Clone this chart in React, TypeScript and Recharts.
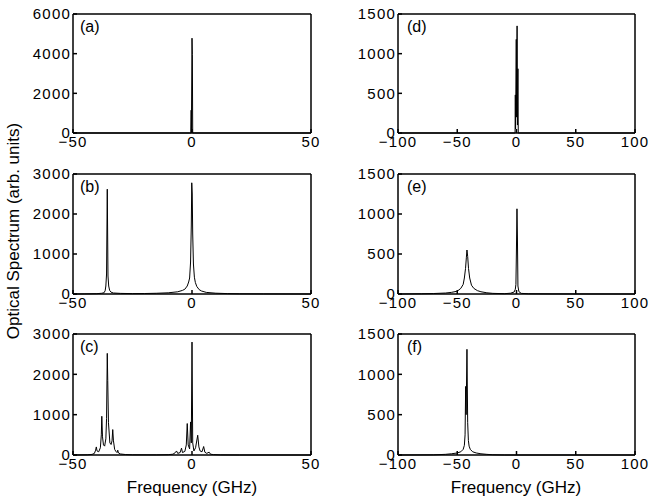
import React from 'react';
import { LineChart, Line, XAxis, YAxis } from 'recharts';

// tick values
const leftFreqTicks = [-50, 0, 50];
const rightFreqTicks = [-100, -50, 0, 50, 100];
const ticksA = [0, 2000, 4000, 6000];
const ticksBC = [0, 1000, 2000, 3000];
const ticksDEF = [0, 500, 1000, 1500];

// spectra: [frequency GHz, power arb. units]
const specA: [number, number][] = [
  [-50, 0], [-1, 0], [-0.5, 0], [-0.35, 1150], [-0.25, 0], [0, 4780], [0.15, 3950], [0.3, 0], [1, 0], [50, 0],
];

const specB: [number, number][] = [
  [-50, 0], [-45, 3], [-40, 8], [-38, 18], [-37, 30], [-36.5, 80], [-36.2, 200], [-35.9, 500], [-35.6, 2620],
  [-35.3, 450], [-35, 200], [-34.6, 90], [-34, 45], [-33, 25], [-30, 15], [-25, 10], [-20, 12], [-15, 18],
  [-10, 30], [-6, 55], [-4, 90], [-3, 120], [-2, 200], [-1.4, 300], [-1, 400], [-0.6, 800], [-0.3, 1700],
  [-0.1, 2780], [0.1, 2500], [0.3, 1500], [0.6, 750], [1, 420], [1.4, 290], [2, 190], [3, 110], [4, 75],
  [6, 40], [10, 20], [15, 10], [20, 5], [30, 2], [50, 0],
];

const specC: [number, number][] = [
  [-50, 0], [-44, 5], [-42, 15], [-41, 40], [-40.5, 120], [-40.2, 200], [-39.9, 100], [-39.2, 80],
  [-38.5, 180], [-38.1, 500], [-37.9, 960], [-37.6, 450], [-37.2, 250], [-36.7, 220], [-36.2, 400],
  [-35.9, 900], [-35.6, 2520], [-35.4, 1850], [-35.1, 800], [-34.5, 300], [-34, 260], [-33.6, 350],
  [-33.3, 630], [-33, 350], [-32.5, 140], [-32, 90], [-31.5, 60], [-31.2, 120], [-30.9, 50], [-30, 25],
  [-28, 12], [-25, 5], [-15, 3], [-10, 8], [-8, 20], [-7, 60], [-6.5, 100], [-6, 40], [-5, 60],
  [-4.4, 170], [-4, 60], [-3, 90], [-2.4, 250], [-2, 780], [-1.6, 250], [-1, 150], [-0.6, 820],
  [-0.3, 300], [0, 2800], [0.3, 300], [0.8, 100], [1.5, 180], [2.4, 490], [2.9, 200], [3.4, 100],
  [4.2, 80], [4.9, 210], [5.4, 70], [6.2, 40], [7.2, 70], [7.8, 20], [9, 10], [12, 3], [20, 0], [50, 0],
];

const specD: [number, number][] = [
  [-100, 0], [-2, 0], [-1.2, 0], [-1, 480], [-0.8, 50], [-0.2, 1180], [0.1, 200], [0.5, 1350],
  [0.8, 100], [1.2, 810], [1.5, 0], [3, 0], [100, 0],
];

const specE: [number, number][] = [
  [-100, 0], [-80, 3], [-70, 6], [-60, 12], [-55, 20], [-50, 35], [-47, 70], [-45, 120], [-44, 200],
  [-43, 320], [-42.3, 460], [-41.8, 550], [-41.2, 470], [-40.5, 320], [-39.5, 200], [-38, 110],
  [-36, 70], [-33, 42], [-30, 28], [-25, 15], [-20, 8], [-10, 4], [-5, 10], [-2, 25], [-1, 60],
  [-0.5, 120], [-0.2, 400], [0.4, 1065], [0.8, 700], [1.2, 100], [2, 30], [4, 8], [10, 3], [30, 1], [100, 0],
];

const specF: [number, number][] = [
  [-100, 0], [-70, 2], [-60, 8], [-55, 15], [-50, 25], [-47, 40], [-45, 70], [-44, 120], [-43.4, 250],
  [-42.9, 850], [-42.5, 500], [-41.8, 1310], [-41.2, 400], [-40.6, 180], [-40, 110], [-39, 70],
  [-37, 40], [-34, 25], [-30, 15], [-25, 8], [-20, 3], [-10, 0], [100, 0],
];

const FONT = '"Liberation Sans", Arial, Helvetica, sans-serif';
const fmt = (v: number) => String(v).replace('-', '\u2212');

function Panel({ spec, left, top, w, h, xTicks, yTicks }) {
  const rows = spec.map(([f, s]) => ({ f, s }));
  const xDom = [xTicks[0], xTicks[xTicks.length - 1]];
  const yDom = [0, yTicks[yTicks.length - 1]];
  const axisStyle = { stroke: '#000', strokeWidth: 1.5 };
  const tickStyle = { fill: '#000', fontSize: 15 };
  return (
    <div style={{ position: 'absolute', left: left - 70, top: top - 10, letterSpacing: 1.2 }}>
      <LineChart width={w + 100} height={h + 35} data={rows} margin={{ top: 9, right: 29, bottom: 0, left: 0 }}>
        <XAxis xAxisId="b" dataKey="f" type="number" domain={xDom} ticks={xTicks} interval={0}
          height={25} tickSize={-4} tickMargin={7} tick={tickStyle} tickFormatter={fmt} {...axisStyle} />
        <XAxis xAxisId="t" dataKey="f" type="number" orientation="top" domain={xDom} ticks={xTicks}
          interval={0} height={1} tickSize={-4} tick={false} {...axisStyle} />
        <YAxis yAxisId="l" type="number" domain={yDom} ticks={yTicks} interval={0} width={70}
          tickSize={-4} tickMargin={6} tick={tickStyle} {...axisStyle} />
        <YAxis yAxisId="r" type="number" orientation="right" domain={yDom} ticks={yTicks} interval={0}
          width={1} tickSize={-4} tick={false} {...axisStyle} />
        <Line xAxisId="b" yAxisId="l" dataKey="s" type="linear" stroke="#000" strokeWidth={1}
          dot={false} isAnimationActive={false} />
      </LineChart>
    </div>
  );
}

const tags = ['(a)', '(b)', '(c)', '(d)', '(e)', '(f)'];

export default function App() {
  const rowsTop = [14, 174, 334];
  const rowsH = [119, 120, 121];
  return (
    <div style={{ position: 'absolute', left: 0, top: 0, width: 649, height: 500, background: '#fff', fontFamily: FONT, overflow: 'hidden' }}>
      <Panel spec={specA} left={73} top={rowsTop[0]} w={238} h={rowsH[0]} xTicks={leftFreqTicks} yTicks={ticksA} />
      <Panel spec={specB} left={73} top={rowsTop[1]} w={238} h={rowsH[1]} xTicks={leftFreqTicks} yTicks={ticksBC} />
      <Panel spec={specC} left={73} top={rowsTop[2]} w={238} h={rowsH[2]} xTicks={leftFreqTicks} yTicks={ticksBC} />
      <Panel spec={specD} left={398} top={rowsTop[0]} w={237} h={rowsH[0]} xTicks={rightFreqTicks} yTicks={ticksDEF} />
      <Panel spec={specE} left={398} top={rowsTop[1]} w={237} h={rowsH[1]} xTicks={rightFreqTicks} yTicks={ticksDEF} />
      <Panel spec={specF} left={398} top={rowsTop[2]} w={237} h={rowsH[2]} xTicks={rightFreqTicks} yTicks={ticksDEF} />
      <svg width={649} height={500} style={{ position: 'absolute', left: 0, top: 0, pointerEvents: 'none' }}>
        {tags.map((t, i) => (
          <text key={t} x={i < 3 ? 80 : 407} y={31.5 + rowsTop[i % 3] - 14} fontSize={16} fill="#000">{t}</text>
        ))}
        <text x={192} y={493} fontSize={17} textAnchor="middle" fill="#000">Frequency (GHz)</text>
        <text x={516} y={493} fontSize={17} textAnchor="middle" fill="#000">Frequency (GHz)</text>
        <text transform="translate(19,231) rotate(-90)" fontSize={17} textAnchor="middle" fill="#000">
          Optical Spectrum (arb. units)
        </text>
      </svg>
    </div>
  );
}
